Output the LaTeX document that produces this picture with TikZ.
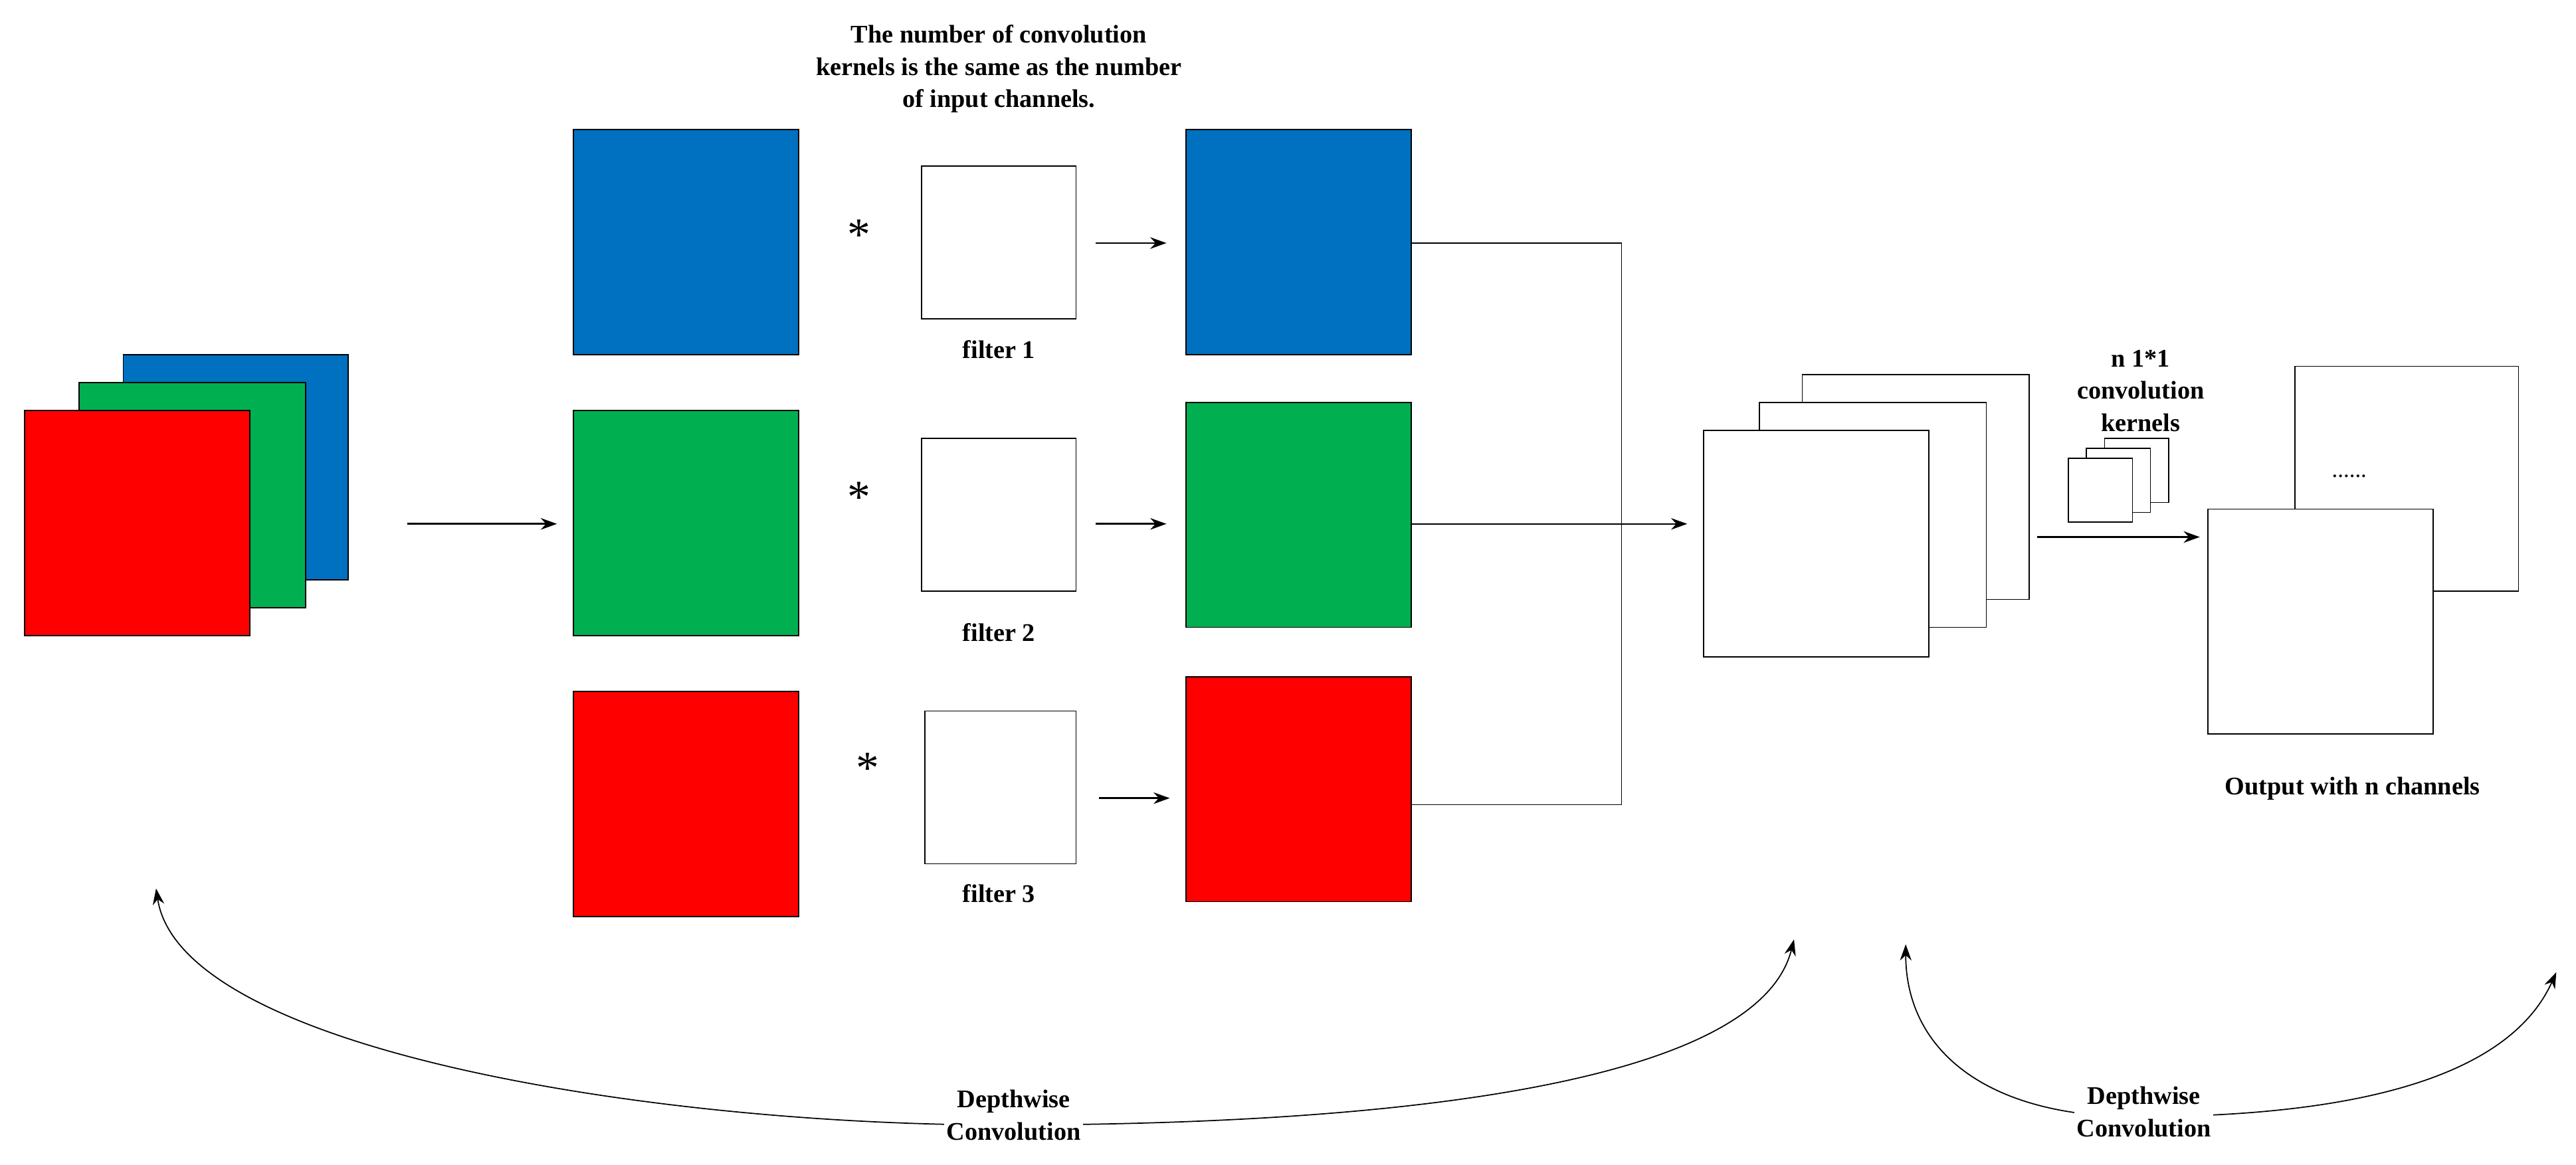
\documentclass[tikz,border=0pt]{standalone}
\usepackage{fontspec}
\setmainfont{Liberation Serif}
\usetikzlibrary{arrows.meta}
\definecolor{cb}{RGB}{0,112,192}
\definecolor{cg}{RGB}{0,176,80}
\definecolor{cr}{RGB}{255,0,0}
\begin{document}
\begin{tikzpicture}[x=0.025cm,y=-0.025cm,
 sq/.style={draw=black,line width=0.5pt},
 arr/.style={-{Stealth[length=7pt,width=5pt]},line width=0.8pt},
 lbl/.style={font=\bfseries\fontsize{11}{14}\selectfont,align=center,inner sep=1pt},
 ast/.style={font=\fontsize{20}{20}\selectfont}]
\useasboundingbox (0,0) rectangle (1568,709);
% input
\filldraw[sq,fill=cb] (75,216) rectangle (212,353);
\filldraw[sq,fill=cg] (48,233) rectangle (186,370);
\filldraw[sq,fill=cr] (15,250) rectangle (152,387);
\coordinate (inR) at (248,319);
\node[inner sep=0] (inB) at (340,319) {};
\draw[arr] (inR) -- (inB);
% split channels
\filldraw[sq,fill=cb] (349,79) rectangle (486,216);
\filldraw[sq,fill=cg] (349,250) rectangle (486,387);
\filldraw[sq,fill=cr] (349,421) rectangle (486,558);
\node[ast] (a1) at (523,143) {*};
\node[ast] (a2) at (523,303) {*};
\node[ast] (a3) at (528,468) {*};
\draw[sq] (561,101) rectangle (655,194);
\draw[sq] (561,267) rectangle (655,360);
\draw[sq] (563,433) rectangle (655,526);
\node[lbl] (f1) at (608,213) {filter 1};
\node[lbl] (f2) at (608,385) {filter 2};
\node[lbl] (f3) at (608,544) {filter 3};
\node[lbl] (top) at (608,42) {The number of convolution\\kernels is the same as the number\\of input channels.};
\coordinate (s1) at (667,148); \coordinate (e1) at (710,148);
\coordinate (s2) at (667,319); \coordinate (e2) at (710,319);
\coordinate (s3) at (669,486); \coordinate (e3) at (712,486);
\draw[arr] (s1) -- (e1);
\draw[arr] (s2) -- (e2);
\draw[arr] (s3) -- (e3);
\filldraw[sq,fill=cb] (722,79) rectangle (859,216);
\filldraw[sq,fill=cg] (722,245) rectangle (859,382);
\filldraw[sq,fill=cr] (722,412) rectangle (859,549);
\coordinate (o1) at (859,148); \coordinate (o2) at (859,319); \coordinate (o3) at (859,490);
\coordinate (c1) at (987,148); \coordinate (c3) at (987,490); \coordinate (m) at (1027,319);
\draw[line width=0.5pt] (o1) -- (c1) -- (c3) -- (o3);
\draw[arr,line width=0.5pt] (o2) -- (m);
% stacked white
\filldraw[sq,fill=white] (1097,228) rectangle (1235,365);
\filldraw[sq,fill=white] (1071,245) rectangle (1209,382);
\filldraw[sq,fill=white] (1037,262) rectangle (1174,400);
\node[lbl] (nk) at (1303,238) {n 1*1\\convolution\\kernels};
\filldraw[sq,fill=white] (1281,267) rectangle (1320,306);
\filldraw[sq,fill=white] (1270,273) rectangle (1309,312);
\filldraw[sq,fill=white] (1259,279) rectangle (1298,318);
\coordinate (p1) at (1240,327); \coordinate (p2) at (1339,327);
\draw[arr] (p1) -- (p2);
\filldraw[sq,fill=white] (1397,223) rectangle (1533,360);
\node (dots) at (1430,290) {......};
\filldraw[sq,fill=white] (1344,310) rectangle (1481,447);
\node[lbl] (out) at (1432,480) {Output with n channels};
% curves
\coordinate (L1) at (95,541); \coordinate (L2) at (1092,572);
\draw[{Stealth[length=7pt,width=5pt]}-{Stealth[length=7pt,width=5pt]},line width=0.5pt] (L1) .. controls (110,640) and (400,685) .. (610,685) .. controls (850,685) and (1070,660) .. (L2);
\node[lbl,fill=white] (d1) at (617,679) {Depthwise\\Convolution};
\coordinate (R1) at (1160,575); \coordinate (R2) at (1556,592);
\draw[{Stealth[length=7pt,width=5pt]}-{Stealth[length=7pt,width=5pt]},line width=0.5pt] (R1) .. controls (1160,640) and (1210,680) .. (1300,680) .. controls (1450,680) and (1530,650) .. (R2);
\node[lbl,fill=white] (d2) at (1305,677) {Depthwise\\Convolution};
\end{tikzpicture}
\end{document}
